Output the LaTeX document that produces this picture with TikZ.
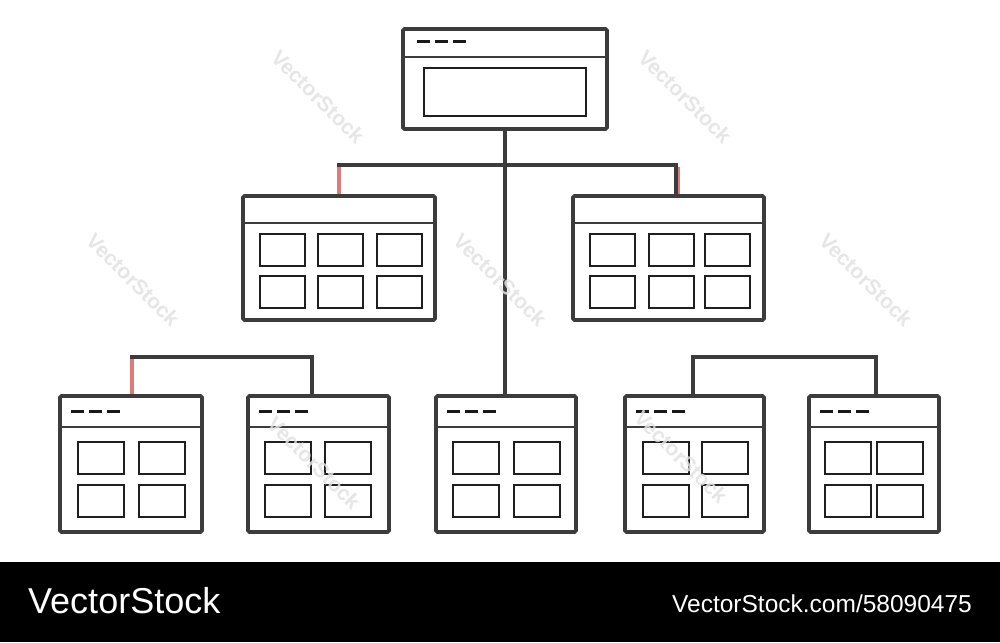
\documentclass[tikz,border=0pt]{standalone}
\usepackage{fontspec}
\setmainfont{Liberation Sans}
\definecolor{ink}{HTML}{3C3C3C}
\definecolor{pinkline}{HTML}{E07A78}
\definecolor{wmgray}{HTML}{E2E2E2}
\tikzset{
  outer/.style={draw=ink, line width=3.8pt, rounded corners=1.5pt, fill=white, inner sep=0pt, outer sep=0pt},
  hdr/.style={draw=ink, line width=2.1pt},
  cell/.style={draw=black!88, line width=2pt},
  dashmark/.style={draw=black!90, line width=3pt},
  conn/.style={draw=ink, line width=3.5pt},
  redconn/.style={draw=pinkline, line width=3.5pt},
  wmk/.style={text=wmgray, text opacity=0.85, font=\fontsize{21}{21}\selectfont\bfseries, inner sep=0pt},
}
\newcommand\dashrow[2]{% x start, y
  \draw[dashmark] (#1,#2) -- ++(13,0) (#1+18,#2) -- ++(13,0) (#1+36,#2) -- ++(13,0);}
\newcommand\winbot[5]{% name, x0, x1, c1, c2
  \node[outer, minimum width={(#3-#2)*1pt}, minimum height=136pt] (#1) at ({(#2+#3)/2},464) {};
  \draw[hdr] (#2,427) -- (#3,427);
  \dashrow{#2+11}{411}
  \draw[cell] (#4,442) rectangle ++(46,32);
  \draw[cell] (#5,442) rectangle ++(46,32);
  \draw[cell] (#4,485) rectangle ++(46,32);
  \draw[cell] (#5,485) rectangle ++(46,32);}
\newcommand\winmid[6]{% name, x0, x1, c1, c2, c3
  \node[outer, minimum width={(#3-#2)*1pt}, minimum height=124pt] (#1) at ({(#2+#3)/2},258) {};
  \draw[hdr] (#2,223) -- (#3,223);
  \foreach \cx in {#4,#5,#6}{
    \draw[cell] (\cx,234) rectangle ++(45,32);
    \draw[cell] (\cx,276) rectangle ++(45,32);}}
\begin{document}
\begin{tikzpicture}[x=1pt,y=-1pt]
\useasboundingbox (0,0) rectangle (1000,642);
\fill[white] (0,0) rectangle (1000,642);
% connector points
\coordinate (jt) at (505,165);
\coordinate (m2a) at (676,196);
\coordinate (l1) at (132,396);
\coordinate (l2) at (312,396);
\coordinate (lj) at (132,357);
\coordinate (r1) at (693,396);
\coordinate (r2) at (876,396);
\coordinate (rj) at (693,357);
% top box
\node[outer, minimum width=204pt, minimum height=100pt] (top) at (505,79) {};
\draw[hdr] (403,57) -- (607,57);
\dashrow{417}{42}
\draw[cell] (424,68) rectangle (586,116);
% connectors
\draw[conn] (top.south) -- (top.south |- jt);
\draw[conn] (jt) -- (505,395);
\draw[conn] (339,196) -- (339,165) -- (jt) -- (jt -| m2a) -- (m2a);
\draw[redconn] (339,196) -- (339,167);
\draw[pinkline, line width=1.6pt] (678.8,167) -- (678.8,196);
\draw[conn] (m2a) -- (676,165);
\draw[conn] (l1) -- (lj) -- (lj -| l2) -- (l2);
\draw[redconn] (l1) -- (132,359);
\draw[conn] (r1) -- (rj) -- (rj -| r2) -- (r2);
% middle boxes
\winmid{m1}{243}{435}{260}{318}{377}
\winmid{m2}{573}{764}{590}{649}{705}
% bottom boxes
\winbot{b1}{60}{202}{78}{139}
\winbot{b2}{248}{389}{265}{325}
\winbot{b3}{436}{576}{453}{514}
\winbot{b4}{625}{764}{643}{702}
\winbot{b5}{809}{939}{825}{877}
% watermarks
\foreach \wx/\wy in {318/97, 685/97, 133/280, 500/280, 866/280, 314/463, 681/457}{
  \node[wmk, rotate=-45] at (\wx,\wy) {VectorStock};}
% footer
\fill[black] (0,562) rectangle (1000,642);
\node[anchor=base west, inner sep=0pt, text=white, font=\fontsize{36}{36}\selectfont] (logo) at (28,613) {VectorStock};
\node[anchor=base east, inner sep=0pt, text=white, font=\fontsize{24.5}{24.5}\selectfont] (url) at (972,612) {VectorStock.com/58090475};
\end{tikzpicture}
\end{document}
